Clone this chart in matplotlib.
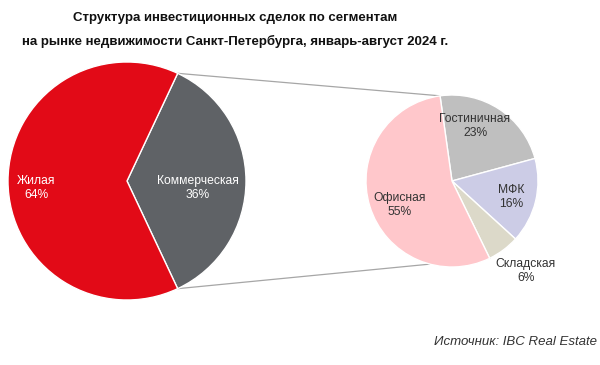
import numpy as np
import matplotlib.pyplot as plt
from matplotlib import font_manager

# -----------------------------
# Data
# -----------------------------
main_labels = ["Коммерческая", "Жилая"]
main_values = [36, 64]
main_colors = ["#5f6266", "#e20a17"]

sub_labels = ["Гостиничная", "МФК", "Складская", "Офисная"]
sub_values = [23, 16, 6, 55]
sub_colors = ["#bfbfbf", "#cccce6", "#dcd9c9", "#ffc7cb"]

title = ("Структура инвестиционных сделок по сегментам\n"
         "на рынке недвижимости Санкт-Петербурга, январь-август 2024 г.")
source = "Источник: IBC Real Estate"

plt.rcParams["font.family"] = ["Liberation Sans", "DejaVu Sans"]

names = {f.name for f in font_manager.fontManager.ttflist}
if "Liberation Sans Narrow" in names:
    title_font, title_size = ["Liberation Sans Narrow", "DejaVu Sans"], 11.5
else:
    title_font, title_size = ["Liberation Sans", "DejaVu Sans"], 9.5

# -----------------------------
# Figure in pixel coordinates
# -----------------------------
W, H = 600, 365
fig = plt.figure(figsize=(W / 100, H / 100), dpi=100)
ax = fig.add_axes([0, 0, 1, 1])

c1, r1 = (127, 184), 119
c2, r2 = (452, 184), 86

# main pie: commercial segment centred on the right
start1 = -main_values[0] / 100 * 360 / 2
w1, _ = ax.pie(main_values, colors=main_colors, startangle=start1,
               center=c1, radius=r1, counterclock=True,
               wedgeprops=dict(edgecolor="white", linewidth=1))

# detail pie for the commercial segment
start2 = 98
w2, _ = ax.pie(sub_values, colors=sub_colors, startangle=start2,
               center=c2, radius=r2, counterclock=False,
               wedgeprops=dict(edgecolor="white", linewidth=1))

# connector lines
a_top = np.deg2rad(-start1)
a_bot = np.deg2rad(start1)
b_top = np.deg2rad(start2)
b_bot = np.deg2rad(start2 - sum(sub_values[:3]) / 100 * 360)
for a, b in [(a_top, b_top), (a_bot, b_bot)]:
    ax.plot([c1[0] + r1 * np.cos(a), c2[0] + r2 * np.cos(b)],
            [c1[1] + r1 * np.sin(a), c2[1] + r2 * np.sin(b)],
            color="#a6a6a6", lw=0.9, zorder=0)

# labels
main_pos = [(198, 177), (36, 177)]
for (x, y), lab, v in zip(main_pos, main_labels, main_values):
    ax.text(x, y, f"{lab}\n{v}%", ha="center", va="center",
            color="white", fontsize=8.7, linespacing=1.2)

sub_pos = [(475, 239), (511, 168), (526, 94), (400, 160)]
for (x, y), lab, v in zip(sub_pos, sub_labels, sub_values):
    ax.text(x, y, f"{lab}\n{v}%", ha="center", va="center",
            color="#333333", fontsize=8.7, linespacing=1.2)

ax.text(235, 335, title, ha="center", va="center", fontsize=title_size,
        family=title_font, fontweight="bold", linespacing=2.1,
        color="#111111")
ax.text(597, 23, source, ha="right", va="center", fontsize=9.5,
        style="italic", color="#333333")

ax.set_xlim(0, W)
ax.set_ylim(0, H)
ax.set_aspect("equal")
ax.axis("off")

fig.savefig("out.png", dpi=100)
